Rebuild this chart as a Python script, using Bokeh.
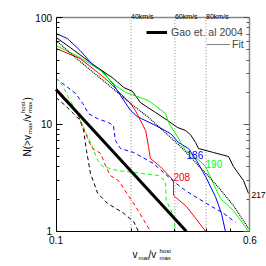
from bokeh.plotting import figure
from bokeh.models import (LogAxis, FixedTicker, Label, Legend, LegendItem,
                          Range1d, CustomJSTickFormatter)
from bokeh.embed import file_html
from bokeh.resources import INLINE

FONT = "Liberation Sans"

# ---------------- data ----------------
x_bounds = (0.1, 0.6)
y_bounds = (1, 100)
x_major = [0.1, 0.6]
x_minor = [0.2, 0.3, 0.4, 0.5]
y_major = [1, 10, 100]
y_minor = [2, 3, 4, 5, 6, 7, 8, 9, 20, 30, 40, 50, 60, 70, 80, 90]

vline_x = [0.2, 0.3, 0.4]
vline_labels = ["40km/s", "60km/s", "80km/s"]

halo_names = ["217", "186", "190", "208"]
halo_colors = ["black", "#0000ff", "#00ff00", "#ff0000"]

# solid curves
h217_x = [0.100, 0.114, 0.141, 0.170, 0.187, 0.203, 0.218, 0.251, 0.280, 0.307, 0.331, 0.346, 0.363, 0.373, 0.428, 0.492, 0.515, 0.565, 0.592]
h217_y = [65.1, 52.4, 36.3, 26.9, 22.1, 20.3, 16.0, 12.9, 10.9, 9.35, 8.75, 8.03, 6.76, 5.94, 5.45, 5.00, 4.03, 2.98, 2.26]
h186_x = [0.100, 0.111, 0.125, 0.141, 0.155, 0.170, 0.1815, 0.199, 0.212, 0.251, 0.288, 0.310, 0.340, 0.366, 0.398, 0.436, 0.461, 0.478]
h186_y = [70.8, 63.6, 49.1, 35.6, 30.6, 23.6, 18.6, 13.5, 11.8, 9.76, 8.21, 6.76, 5.94, 4.59, 3.25, 2.11, 1.47, 1.0]
h190_x = [0.100, 0.125, 0.151, 0.173, 0.190, 0.218, 0.235, 0.275, 0.283, 0.3015, 0.331, 0.380, 0.398, 0.428, 0.457, 0.515, 0.592]
h190_y = [54.7, 42.2, 31.9, 23.1, 19.9, 17.8, 16.7, 12.6, 10.4, 8.21, 5.69, 4.49, 4.03, 2.79, 2.02, 1.56, 1.0]
h208_x = [0.100, 0.125, 0.147, 0.161, 0.1815, 0.199, 0.208, 0.229, 0.235, 0.239, 0.262, 0.296, 0.296, 0.334, 0.398]
h208_y = [51.3, 41.3, 30.6, 25.7, 19.4, 15.7, 13.5, 8.75, 6.21, 4.79, 4.03, 2.98, 2.16, 1.70, 1.0]

# dashed curves
d217_x = [0.100, 0.109, 0.1175, 0.125, 0.129, 0.1325, 0.1375, 0.147, 0.161, 0.187, 0.205, 0.214]
d217_y = [17.8, 15.0, 12.6, 10.9, 8.75, 5.69, 3.47, 2.26, 1.82, 1.47, 1.23, 1.0]
d186_x = [0.100, 0.109, 0.120, 0.128, 0.135, 0.147, 0.162, 0.170, 0.173, 0.1815, 0.205, 0.246, 0.296, 0.334, 0.401, 0.470, 0.525]
d186_y = [26.9, 23.1, 19.4, 15.7, 12.6, 11.3, 10.4, 9.76, 7.06, 5.94, 5.45, 4.30, 2.92, 2.36, 1.82, 1.47, 1.21]
d190_x = [0.100, 0.106, 0.114, 0.120, 0.129, 0.141, 0.147, 0.154, 0.1765, 0.205, 0.258, 0.275, 0.277, 0.296, 0.3015]
d190_y = [27.4, 23.1, 16.7, 13.5, 9.35, 5.94, 4.59, 4.03, 3.70, 3.54, 3.32, 2.92, 1.94, 1.40, 1.0]
d208_x = [0.100, 0.109, 0.1165, 0.122, 0.129, 0.135, 0.140, 0.151, 0.158, 0.165, 0.178, 0.195, 0.205, 0.222, 0.239]
d208_y = [21.6, 17.8, 15.0, 12.6, 9.15, 7.06, 5.94, 5.34, 4.12, 3.32, 2.98, 2.16, 1.82, 1.34, 1.0]

gao_x = [0.1, 0.333]
gao_y = [21.2, 1.0]
fit_x = [0.100, 0.125, 0.151, 0.173, 0.199, 0.235, 0.277, 0.316, 0.363, 0.428, 0.515, 0.592]
fit_y = [60.9, 38.7, 26.9, 20.7, 15.7, 11.6, 8.21, 6.21, 4.39, 2.92, 1.74, 1.06]

# anchor positions for the halo number labels
num_x = [0.608, 0.334, 0.398, 0.296]
num_y = [2.16, 5.2, 4.3, 3.25]
num_size = ["8.5px", "10px", "10px", "10px"]

# ---------------- figure ----------------
# the frame fills the whole canvas; the axes are pinned at the data box edges
p = figure(x_axis_type="log", y_axis_type="log",
           x_range=Range1d(0.05988, 0.6990), y_range=Range1d(0.4673, 144.25),
           width=266, height=266,
           min_border_left=0, min_border_right=0, min_border_top=0, min_border_bottom=0,
           output_backend="svg", toolbar_location=None)
p.grid.visible = False
p.outline_line_color = None
p.background_fill_color = "white"
p.border_fill_color = "white"

fmt = CustomJSTickFormatter(code="return tick.toString()")
blank = CustomJSTickFormatter(code="return ''")

xa = p.xaxis[0]
xa.ticker = FixedTicker(ticks=x_major, minor_ticks=x_minor)
xa.fixed_location = y_bounds[0]
xa.bounds = x_bounds
ya = p.yaxis[0]
ya.ticker = FixedTicker(ticks=y_major, minor_ticks=y_minor)
ya.fixed_location = x_bounds[0]
ya.bounds = y_bounds
for a in (xa, ya):
    a.formatter = fmt
    a.major_tick_in = 6
    a.major_tick_out = 0
    a.minor_tick_in = 3
    a.minor_tick_out = 0
    a.axis_line_color = "black"
    a.major_tick_line_color = "black"
    a.minor_tick_line_color = "black"
    a.major_label_text_font = FONT
    a.major_label_text_font_size = "10px"
    a.major_label_text_color = "black"
    a.major_label_standoff = 5
ya.major_label_standoff = 4

top = LogAxis(ticker=FixedTicker(ticks=[], minor_ticks=[]), formatter=blank,
              fixed_location=y_bounds[1], bounds=x_bounds,
              axis_line_color="#888888", axis_line_width=1.5,
              major_tick_in=0, major_tick_out=0, minor_tick_in=0, minor_tick_out=0,
              major_label_standoff=0)
p.add_layout(top, "above")
right = LogAxis(ticker=FixedTicker(ticks=y_major, minor_ticks=y_minor), formatter=blank,
                fixed_location=x_bounds[1], bounds=y_bounds,
                axis_line_color="#888888", axis_line_width=1.5,
                major_tick_in=6, major_tick_out=0, minor_tick_in=3, minor_tick_out=0,
                major_tick_line_color="#555555", minor_tick_line_color="#555555",
                major_label_standoff=0)
p.add_layout(right, "right")

# vertical velocity markers
p.segment(x0=vline_x, y0=[y_bounds[0]] * len(vline_x), x1=vline_x, y1=[y_bounds[1]] * len(vline_x),
          line_color="#888888", line_dash="1 2", line_width=1)
for vx, vl in zip(vline_x, vline_labels):
    p.add_layout(Label(x=vx, y=250, x_units="data", y_units="screen", text=vl,
                       text_font=FONT, text_font_size="7px", text_color="black",
                       text_align="left", text_baseline="alphabetic"))

dashed = [(d217_x, d217_y), (d186_x, d186_y), (d190_x, d190_y), (d208_x, d208_y)]
solid = [(h217_x, h217_y), (h186_x, h186_y), (h190_x, h190_y), (h208_x, h208_y)]
for (dx, dy), c in zip(dashed, halo_colors):
    p.line(dx, dy, line_color=c, line_width=1, line_dash="4 3")
for (sx, sy), c in zip(solid, halo_colors):
    p.line(sx, sy, line_color=c, line_width=1)

fit_r = p.line(fit_x, fit_y, line_color="black", line_width=1.2, line_dash="1 1")
gao_r = p.line(gao_x, gao_y, line_color="black", line_width=3)

for name, c, nx, ny, fs in zip(halo_names, halo_colors, num_x, num_y, num_size):
    p.add_layout(Label(x=nx, y=ny, text=name, text_color=c, text_font=FONT,
                       text_font_size=fs, text_align="left", text_baseline="middle"))

leg1 = Legend(items=[LegendItem(label="Gao et. al 2004", renderers=[gao_r])],
              location=(146, 228), glyph_width=21, glyph_height=10, label_height=10,
              label_standoff=4, padding=0, margin=0, spacing=0,
              border_line_color=None, background_fill_alpha=0,
              label_text_font=FONT, label_text_font_size="10.5px")
leg2 = Legend(items=[LegendItem(label="Fit", renderers=[fit_r])],
              location=(207, 216), glyph_width=23, glyph_height=10, label_height=10,
              label_standoff=2, padding=0, margin=0, spacing=0,
              border_line_color=None, background_fill_alpha=0,
              label_text_font=FONT, label_text_font_size="10.5px")
p.add_layout(leg1)
p.add_layout(leg2)

# axis titles built from pieces (screen units: frame == canvas)
def piece(x, y, t, size, angle=0.0):
    p.add_layout(Label(x=x, y=y, x_units="screen", y_units="screen", text=t,
                       text_font=FONT, text_font_size=size, text_color="black",
                       text_align="left", text_baseline="alphabetic", angle=angle))

# x title: v_max / v_max^host
piece(132, 12, "v", "10px")
piece(138, 9, "max", "6px")
piece(148, 12, "/v", "10px")
piece(159, 16, "host", "6px")
piece(159, 9, "max", "6px")

# y title: N(>v_max/v_max^host)
R = 1.5707963
piece(27, 110, "N(>v", "10px", R)
piece(29.5, 132.5, "max", "6px", R)
piece(27, 144.5, "/v", "10px", R)
piece(29.5, 153.5, "max", "6px", R)
piece(22.5, 153.5, "host", "6px", R)
piece(27, 166, ")", "10px", R)

open("out.html", "w").write(file_html(p, INLINE))
